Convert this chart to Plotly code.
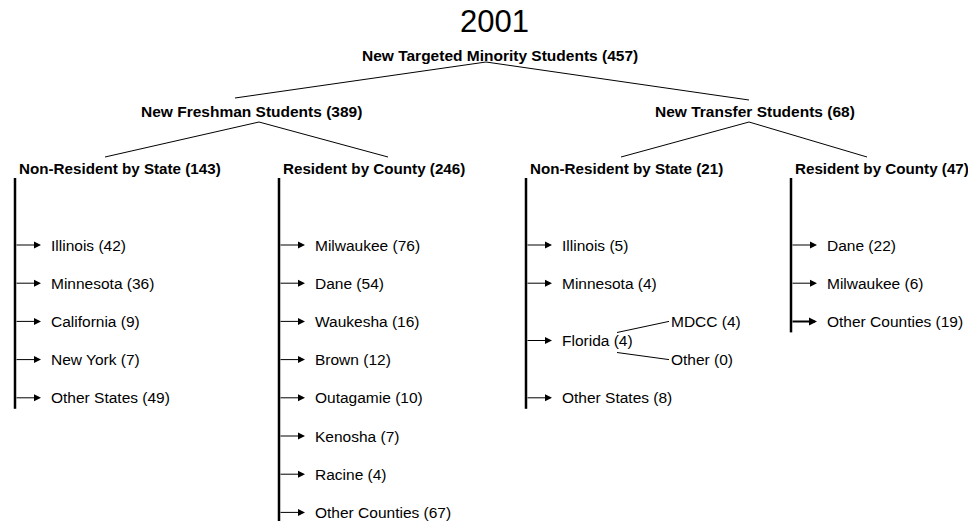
import plotly.graph_objects as go

# ---------------- data ----------------
title_text = "2001"
root_name = "New Targeted Minority Students"
root_value = 457
group_names = ["New Freshman Students", "New Transfer Students"]
group_values = [389, 68]
sub_names = ["Non-Resident by State", "Resident by County",
             "Non-Resident by State", "Resident by County"]
sub_values = [143, 246, 21, 47]

fr_nonres_names = ["Illinois", "Minnesota", "California", "New York", "Other States"]
fr_nonres_values = [42, 36, 9, 7, 49]
fr_res_names = ["Milwaukee", "Dane", "Waukesha", "Brown", "Outagamie",
                "Kenosha", "Racine", "Other Counties"]
fr_res_values = [76, 54, 16, 12, 10, 7, 4, 67]
tr_nonres_names = ["Illinois", "Minnesota", "Florida", "Other States"]
tr_nonres_values = [5, 4, 4, 8]
florida_sub_names = ["MDCC", "Other"]
florida_sub_values = [4, 0]
tr_res_names = ["Dane", "Milwaukee", "Other Counties"]
tr_res_values = [22, 6, 19]

# ---------------- layout constants ----------------
W, H = 968, 521
FONT = "Liberation Sans, Arial, sans-serif"
FS = 15.5
FS_SUB = 15.2
ROW0, ROWSTEP = 245, 38.2
bar_x = [15, 279, 526, 791]
bar_top = 178
slots = [
    [0, 1, 2, 3, 4],
    [0, 1, 2, 3, 4, 5, 6, 7],
    [0, 1, 2.5, 4],
    [0, 1, 2],
]
florida_slots = [2, 3]
leaves = [
    (fr_nonres_names, fr_nonres_values),
    (fr_res_names, fr_res_values),
    (tr_nonres_names, tr_nonres_values),
    (tr_res_names, tr_res_values),
]
title_xy = (494, 21)
root_xy = (500, 55)
group_xy = [(251, 111), (755, 111)]
sub_y = 168
root_anchor = (486, 62)
group_top = [(235, 98), (749, 100)]
group_bottom = [(259, 122), (749, 122)]
sub_top = [(105, 157), (388, 157), (621, 157), (867, 157)]

def rowy(s):
    return ROW0 + ROWSTEP * s

fig = go.Figure()
fig.add_trace(go.Scatter(x=[0, W], y=[0, H], mode="markers",
                         marker=dict(opacity=0), hoverinfo="skip", showlegend=False))

shapes = []
ann = []

def line(x0, y0, x1, y1, w=1):
    shapes.append(dict(type="line", xref="x", yref="y", x0=x0, y0=y0, x1=x1, y1=y1,
                       line=dict(color="black", width=w)))

def text(x, y, s, bold=False, size=FS, xanchor="center"):
    ann.append(dict(x=x, y=y, xref="x", yref="y", text=(f"<b>{s}</b>" if bold else s),
                    showarrow=False, xanchor=xanchor, yanchor="middle",
                    font=dict(family=FONT, size=size, color="black")))

# title and root
text(title_xy[0], title_xy[1], title_text, size=31)
text(root_xy[0], root_xy[1], f"{root_name} ({root_value})", bold=True)

# groups
for i in range(2):
    text(group_xy[i][0], group_xy[i][1], f"{group_names[i]} ({group_values[i]})", bold=True)
    line(root_anchor[0], root_anchor[1], group_top[i][0], group_top[i][1])
    for j in range(2):
        k = 2 * i + j
        line(group_bottom[i][0], group_bottom[i][1], sub_top[k][0], sub_top[k][1])

# subgroups with leaves
for k in range(4):
    bx = bar_x[k]
    text(bx + 2, sub_y, f"{sub_names[k]} ({sub_values[k]})", bold=True, size=FS_SUB,
         xanchor="left")
    names, vals = leaves[k]
    ys = [rowy(s) for s in slots[k]]
    line(bx, bar_top, bx, ys[-1] + 11, w=2.5)
    for n, v, y in zip(names, vals, ys):
        aw = 2 if (k == 3 and n == "Other Counties") else 1
        ann.append(dict(x=bx + 26, y=y, xref="x", yref="y", ax=bx, ay=y,
                        axref="x", ayref="y", text="", showarrow=True,
                        arrowhead=2, arrowsize=1.4 if aw == 1 else 0.8, arrowwidth=aw,
                        arrowcolor="black", standoff=0, startstandoff=0))
        text(bx + 34, y, f"{n} ({v})", xanchor="left")

# Florida sub-branch
fl_y = rowy(slots[2][2])
for n, v, s, dy in zip(florida_sub_names, florida_sub_values, florida_slots, [-8, 12]):
    y = rowy(s)
    line(617, fl_y + dy, 669, y)
    text(669, y, f"{n} ({v})", xanchor="left")

fig.update_layout(
    width=W, height=H, margin=dict(l=0, r=0, t=0, b=0),
    plot_bgcolor="white", paper_bgcolor="white",
    xaxis=dict(range=[0, W], visible=False, fixedrange=True),
    yaxis=dict(range=[H, 0], visible=False, fixedrange=True),
    shapes=shapes, annotations=ann, showlegend=False,
)
fig.write_html("out.html", config={"displayModeBar": False},
               post_script="document.body.style.margin='0';document.body.style.overflow='hidden';")
